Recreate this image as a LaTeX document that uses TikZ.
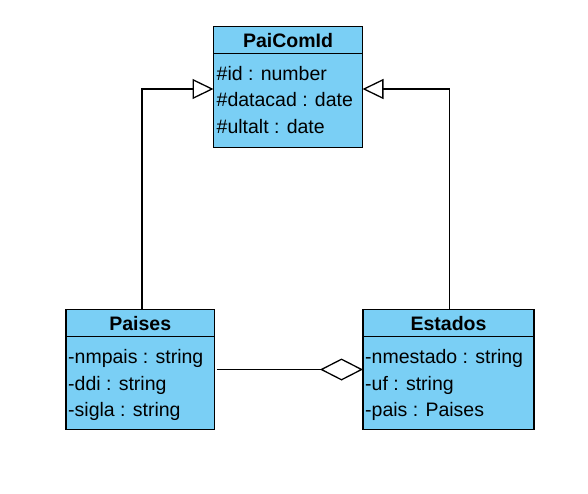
\documentclass[tikz,border=0pt]{standalone}
\usepackage{fontspec}
\setmainfont{Liberation Sans}
\usetikzlibrary{arrows.meta}
\definecolor{classblue}{RGB}{122,207,245}
\tikzset{classbox/.style={draw, line width=1.4pt, fill=classblue}}
\tikzset{classname/.style={font=\bfseries\fontsize{19.5}{24}\selectfont, anchor=base, inner sep=0pt}}
\tikzset{attr/.style={font=\fontsize{19.5}{24}\selectfont, anchor=base west, inner sep=0pt}}
\tikzset{inherit/.style={line width=1.3pt, -{Triangle[open, length=21pt, width=20pt]}}}
\tikzset{aggreg/.style={line width=1.3pt, -{Diamond[open, length=43pt, width=22pt]}}}

\begin{document}
\begin{tikzpicture}[x=1pt, y=-1pt]
            \useasboundingbox (0,0) rectangle (588,493);
            % PaiComId
            \draw[classbox] (213.5,26.5) rectangle (362.5,147.5);
            \draw[line width=1.4pt] (213.5,53.5) -- (362.5,53.5);
            \node[classname] (paicomid) at (288,47) {PaiComId};
            \node[attr] (paicomid-id) at (216.5,80) {\#id : number};
            \node[attr] (paicomid-datacad) at (216.5,106.5) {\#datacad : date};
            \node[attr] (paicomid-ultalt) at (216.5,133) {\#ultalt : date};
            % Paises
            \draw[classbox] (66,309.5) rectangle (214.5,429.5);
            \draw[line width=1.4pt] (66,336.5) -- (214.5,336.5);
            \node[classname] (paises) at (140.25,330.5) {Paises};
            \node[attr] (paises-nmpais) at (68,363) {-nmpais : string};
            \node[attr] (paises-ddi) at (68,390) {-ddi : string};
            \node[attr] (paises-sigla) at (68,416.5) {-sigla : string};
            % Estados
            \draw[classbox] (363,309.5) rectangle (534,429.5);
            \draw[line width=1.4pt] (363,336.5) -- (534,336.5);
            \node[classname] (estados) at (448.5,330.5) {Estados};
            \node[attr] (estados-nmestado) at (365,363) {-nmestado : string};
            \node[attr] (estados-uf) at (365,390) {-uf : string};
            \node[attr] (estados-pais) at (365,416.5) {-pais : Paises};
            % ligacoes
            \coordinate (paises-top) at (142,309.5);
            \coordinate (estados-top) at (449.5,309.5);
            \coordinate (paicomid-left) at (213.5,89);
            \coordinate (paicomid-right) at (362.5,89);
            \coordinate (paises-right) at (216.5,369.5);
            \coordinate (estados-left) at (363,369.5);
            \draw[inherit] (paises-top) |- (paicomid-left);
            \draw[inherit] (estados-top) |- (paicomid-right);
            \draw[aggreg] (paises-right) -- (estados-left);
        \end{tikzpicture}
\end{document}
